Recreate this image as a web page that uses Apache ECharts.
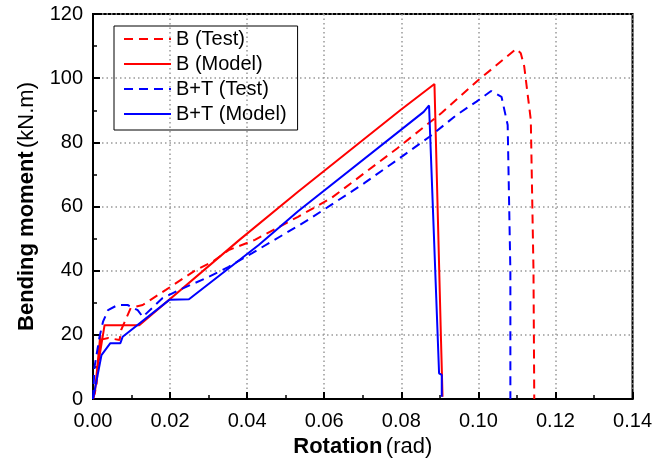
<!DOCTYPE html>
<html>
<head>
<meta charset="utf-8">
<script src="https://cdn.jsdelivr.net/npm/echarts@6/dist/echarts.min.js"></script>
<style>
html,body{margin:0;padding:0;background:#fff;}
#c{width:655px;height:464px;}
</style>
</head>
<body>
<div id="c"></div>
<script>
// Data
var seriesNames = ['B (Test)', 'B (Model)', 'B+T (Test)', 'B+T (Model)'];

var bTestX = [0, 0.0009, 0.0017, 0.004, 0.0069, 0.0073, 0.0098, 0.0129, 0.0189, 0.0267, 0.031, 0.0352, 0.042, 0.0532, 0.0618, 0.0703, 0.0789, 0.0905, 0.1, 0.1098, 0.111, 0.1119, 0.1136, 0.1143, 0.1145];
var bTestY = [0, 3.8, 18.4, 19, 18.4, 21.5, 28.4, 29.3, 34, 40.2, 42.8, 46.4, 49.6, 56.8, 62.6, 70.3, 78.1, 89.2, 99.4, 109.1, 107.8, 103.6, 87, 40, 0];

var bModelX = [0, 0.0005, 0.0019, 0.0015, 0.003, 0.012, 0.038, 0.0532, 0.0798, 0.0886, 0.0903, 0.0907];
var bModelY = [0, 2, 20, 12, 23, 23, 49.6, 64.6, 90.1, 98.2, 18.4, 0.7];

var btTestX = [0, 0.0004, 0.0017, 0.0026, 0.0039, 0.0064, 0.009, 0.0116, 0.0129, 0.018, 0.0224, 0.0292, 0.0352, 0.0412, 0.0558, 0.0618, 0.0703, 0.0789, 0.0874, 0.0943, 0.0995, 0.1033, 0.106, 0.1076, 0.1083, 0.1083];
var btTestY = [0, 10, 19.4, 24.1, 27.7, 29.3, 29.3, 27.7, 25.6, 31.4, 34, 37.6, 41.2, 45.4, 55.8, 60.5, 67.2, 74.5, 81.8, 88.5, 92.7, 96, 94.2, 85.4, 40, 0];

var btModelX = [0, 0.0022, 0.0045, 0.0071, 0.0077, 0.0198, 0.0249, 0.043, 0.0532, 0.0858, 0.0872, 0.0898, 0.0905, 0.0905];
var btModelY = [0, 13.7, 17.4, 17.4, 19.4, 30.9, 31.1, 48, 58.5, 89.5, 91.5, 8, 7.5, 0.7];

var xTicks = ['0.00', '0.02', '0.04', '0.06', '0.08', '0.10', '0.12', '0.14'];
var yTicks = ['0', '20', '40', '60', '80', '100', '120'];

function zip(xs, ys) { return xs.map(function (x, i) { return [x, ys[i]]; }); }

var FONT = '"Liberation Sans", Arial, sans-serif';
var chart = echarts.init(document.getElementById('c'), null, { renderer: 'canvas' });

function mkSeries(name, xs, ys, color, dashed) {
  return {
    name: name, type: 'line', data: zip(xs, ys), symbol: 'none', smooth: false,
    animation: false,
    lineStyle: { color: color, width: 2, type: dashed ? [9, 6] : 'solid' },
    itemStyle: { color: color }
  };
}

var option = {
  animation: false,
  backgroundColor: '#fff',
  grid: { left: 93, right: 18, top: 14, bottom: 65, show: true, borderColor: '#000', borderWidth: 2, backgroundColor: 'transparent' },
  legend: {
    orient: 'vertical', left: 114, top: 26,
    data: seriesNames,
    itemWidth: 47, itemHeight: 14, itemGap: 5,
    padding: [3, 11, 6, 9],
    borderColor: '#000', borderWidth: 1,
    itemStyle: { opacity: 0, borderWidth: 0 },
    textStyle: { fontFamily: FONT, fontSize: 20, color: '#000' }
  },
  xAxis: {
    type: 'value', min: 0, max: 0.14, interval: 0.02,
    name: '{b|Rotation} {n|(rad)}', nameLocation: 'middle', nameGap: 34,
    nameTextStyle: { rich: { b: { fontFamily: FONT, fontSize: 22, fontWeight: 'bold', color: '#000' }, n: { fontFamily: FONT, fontSize: 22, color: '#000' } } },
    axisLine: { show: true, lineStyle: { color: '#000', width: 2 } },
    axisTick: { show: true, inside: true, length: 7, lineStyle: { color: '#000', width: 2 } },
    minorTick: { show: true, splitNumber: 2, length: 4, lineStyle: { color: '#000', width: 1.5 } },
    axisLabel: { fontFamily: FONT, fontSize: 20, color: '#000', margin: 12, formatter: function (v) { return xTicks[Math.round(v / 0.02)]; } },
    splitLine: { show: true, lineStyle: { color: '#999', width: 1.5, type: [1.5, 3] } }
  },
  yAxis: {
    type: 'value', min: 0, max: 120, interval: 20,
    name: '{b|Bending moment} {n|(kN.m)}', nameLocation: 'middle', nameGap: 55, nameRotate: 90,
    nameTextStyle: { rich: { b: { fontFamily: FONT, fontSize: 22, fontWeight: 'bold', color: '#000' }, n: { fontFamily: FONT, fontSize: 22, color: '#000' } } },
    axisLine: { show: true, lineStyle: { color: '#000', width: 2 } },
    axisTick: { show: true, inside: true, length: 7, lineStyle: { color: '#000', width: 2 } },
    minorTick: { show: true, splitNumber: 2, length: 4, lineStyle: { color: '#000', width: 1.5 } },
    axisLabel: { fontFamily: FONT, fontSize: 20, color: '#000', margin: 10, formatter: function (v) { return yTicks[Math.round(v / 20)]; } },
    splitLine: { show: true, lineStyle: { color: '#999', width: 1.5, type: [1.5, 3] } }
  },
  series: [
    mkSeries(seriesNames[0], bTestX, bTestY, '#ff0000', true),
    mkSeries(seriesNames[1], bModelX, bModelY, '#ff0000', false),
    mkSeries(seriesNames[2], btTestX, btTestY, '#0000ff', true),
    mkSeries(seriesNames[3], btModelX, btModelY, '#0000ff', false)
  ]
};
chart.setOption(option);
</script>
</body>
</html>
